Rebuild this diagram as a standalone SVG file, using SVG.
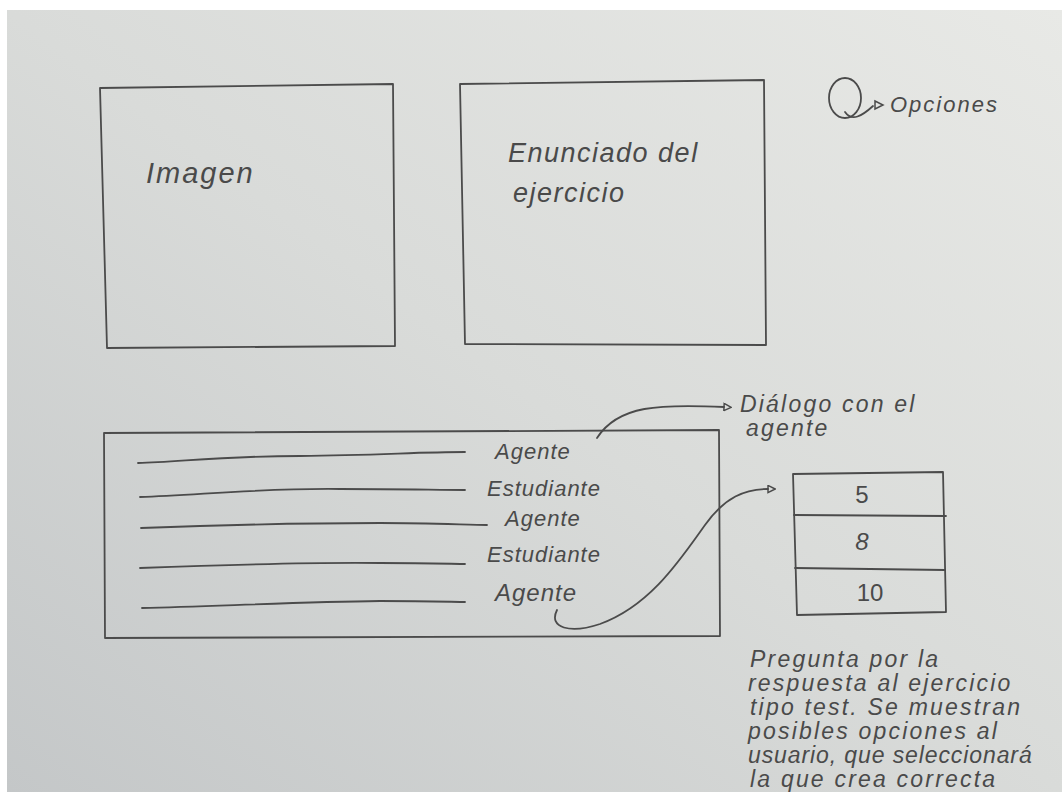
<svg xmlns="http://www.w3.org/2000/svg" width="1062" height="792" viewBox="0 0 1062 792">
  <defs>
    <linearGradient id="paper" x1="1" y1="0" x2="0" y2="1">
      <stop offset="0" stop-color="#e8e9e6"/>
      <stop offset="0.5" stop-color="#d9dbd9"/>
      <stop offset="1" stop-color="#c4c7c8"/>
    </linearGradient>
    <marker id="tri" viewBox="0 0 10 10" refX="1" refY="5" markerWidth="9" markerHeight="9" orient="auto" markerUnits="userSpaceOnUse">
      <path d="M1,1 L9,5 L1,9 Z" fill="none" stroke="#4a4a4a" stroke-width="1.6"/>
    </marker>
  </defs>
  <style>
    .ink { fill: none; stroke: #4b4b4b; stroke-width: 1.8; stroke-linecap: round; stroke-linejoin: round; }
    .txt { font-family: "Liberation Sans", "DejaVu Sans", sans-serif; fill: #4a4a4a; font-style: italic; }
    .big { font-size: 29px; letter-spacing: 2px; }
    .mid { font-size: 27px; letter-spacing: 1.5px; }
    .lbl { font-size: 22px; letter-spacing: 1px; }
    .note { font-size: 23px; letter-spacing: 2.2px; }
    .tight { letter-spacing: 0.9px; }
    .num { font-family: "Liberation Sans", sans-serif; font-size: 24px; fill: #4a4a4a; text-anchor: middle; }
  </style>

  <!-- sheet of paper -->
  <rect x="0" y="0" width="1062" height="792" fill="#ffffff"/>
  <rect x="7" y="10" width="1055" height="782" fill="url(#paper)"/>

  <!-- image area -->
  <g id="imagen">
    <path class="ink" d="M100,88 L393,84 L395,346 L107,348 Z"/>
    <text class="txt big" x="146" y="183">Imagen</text>
  </g>

  <!-- statement area -->
  <g id="enunciado">
    <path class="ink" d="M460,84 L764,80 L766,345 L465,344 Z"/>
    <text class="txt mid" x="508" y="162">Enunciado del</text>
    <text class="txt mid" x="513" y="202">ejercicio</text>
  </g>

  <!-- options icon -->
  <g id="opciones">
    <ellipse class="ink" cx="845" cy="98" rx="16" ry="20"/>
    <path class="ink" d="M845,112 C852,122 862,116 873,106"/>
    <path d="M875,101 L883,105 L875,109 Z" fill="none" stroke="#4a4a4a" stroke-width="1.5"/>
    <text class="txt lbl" x="890" y="112" style="letter-spacing:2px">Opciones</text>
  </g>

  <!-- dialogue box -->
  <g id="dialogo">
    <path class="ink" d="M104,433 L719,430 L720,636 L105,638 Z"/>
    <path class="ink" d="M138,463 C180,462 220,456 300,456 C380,455 420,452 465,452"/>
    <path class="ink" d="M140,497 C200,495 260,488 340,489 C400,489 440,490 465,490"/>
    <path class="ink" d="M141,528 C220,525 300,523 380,523 C430,523 470,525 487,525"/>
    <path class="ink" d="M140,568 C220,565 300,562 380,563 C430,563 455,564 465,564"/>
    <path class="ink" d="M142,608 C220,606 300,602 380,601 C430,601 455,602 465,602"/>
    <text class="txt lbl" x="495" y="459">Agente</text>
    <text class="txt lbl" x="487" y="496">Estudiante</text>
    <text class="txt lbl" x="505" y="526">Agente</text>
    <text class="txt lbl" x="487" y="562">Estudiante</text>
    <text class="txt lbl" x="495" y="601" style="font-size:24px">Agente</text>
  </g>

  <!-- answer choices -->
  <g id="respuestas">
    <path class="ink" d="M793,474 L943,472 L946,612 L797,615 Z"/>
    <path class="ink" d="M794,515 L946,516"/>
    <path class="ink" d="M795,568 L945,570"/>
    <text class="num" x="862" y="503">5</text>
    <text class="num" x="862" y="550" font-style="italic">8</text>
    <text class="num" x="870" y="601">10</text>
  </g>

  <!-- notes -->
  <g id="notas">
    <text class="txt note" x="740" y="412">Diálogo con el</text>
    <text class="txt note" x="746" y="436">agente</text>
    <text class="txt note" x="750" y="667">Pregunta por la</text>
    <text class="txt note" x="748" y="691">respuesta al ejercicio</text>
    <text class="txt note" x="750" y="715">tipo test. Se muestran</text>
    <text class="txt note" x="748" y="739">posibles opciones al</text>
    <text class="txt note tight" x="748" y="763">usuario, que seleccionará</text>
    <text class="txt note" x="750" y="787">la que crea correcta</text>
  </g>

  <!-- connectors -->
  <g id="conectores">
    <path class="ink" d="M597,438 C618,405 660,404 724,407" marker-end="url(#tri)"/>
    <path class="ink" d="M557,610 C548,628 570,634 600,624 C650,606 680,560 705,525 C725,497 745,489 768,489" marker-end="url(#tri)"/>
  </g>
</svg>
